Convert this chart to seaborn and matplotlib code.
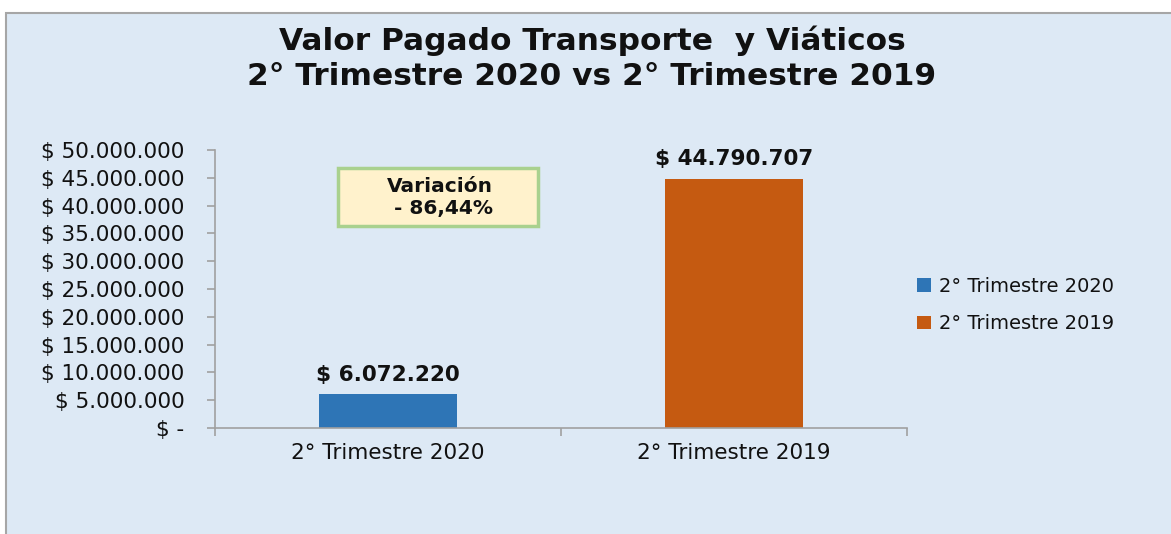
import matplotlib
matplotlib.use('Agg')
import matplotlib.pyplot as plt
import seaborn as sns
from matplotlib.patches import Rectangle
from matplotlib.ticker import FuncFormatter, MultipleLocator

categorias = ['2° Trimestre 2020', '2° Trimestre 2019']
valores = [6072220, 44790707]
colores = ['#2E75B6', '#C55A11']
titulo = 'Valor Pagado Transporte  y Viáticos\n2° Trimestre 2020 vs 2° Trimestre 2019'
variacion = 'Variación\n - 86,44%'


def pesos(v, pos=None):
    if v == 0:
        return '$ -'
    return '$ ' + f'{int(round(v)):,}'.replace(',', '.')


sns.set_style('white')
plt.rcParams['font.family'] = ['DejaVu Sans']

fig = plt.figure(figsize=(11.71, 5.34), dpi=100)
fig.patch.set_facecolor('white')
# light blue panel with grey border on the left and top
fig.patches.append(Rectangle((6 / 1171, -0.2), 1.5, 0.2 + (534 - 13) / 534,
                             transform=fig.transFigure, facecolor='#DDE9F5',
                             edgecolor='#A6A6A6', linewidth=1.5, zorder=-10))

ax = fig.add_axes([215 / 1171, 1 - 428 / 534, 692 / 1171, 278 / 534])
ax.set_facecolor('none')

sns.barplot(x=categorias, y=valores, hue=categorias, palette=colores,
            width=0.4, ax=ax, legend=True, saturation=1, linewidth=0)

ax.set_ylim(0, 50000000)
ax.set_xlim(-0.5, 1.5)
ax.yaxis.set_major_locator(MultipleLocator(5000000))
ax.yaxis.set_major_formatter(FuncFormatter(pesos))

for s in ['top', 'right']:
    ax.spines[s].set_visible(False)
for s in ['left', 'bottom']:
    ax.spines[s].set_color('#A0A0A0')
    ax.spines[s].set_linewidth(1.2)

ax.tick_params(axis='y', length=6, color='#A0A0A0', width=1.2, labelsize=15.5, pad=16,
               left=True, labelcolor='#111111')
ax.tick_params(axis='x', which='major', length=0, labelsize=15.5, pad=11, labelcolor='#111111')
ax.set_xticks([-0.5, 0.5, 1.5], minor=True)
ax.tick_params(axis='x', which='minor', length=6, color='#A0A0A0', width=1.2, bottom=True)

for c in ax.containers:
    ax.bar_label(c, labels=[pesos(b.get_height()) for b in c], padding=7,
                 fontsize=15.5, fontweight='bold', color='#111111')

handles, labels = ax.get_legend_handles_labels()
leg = ax.legend(handles, labels, loc='center left', frameon=False, fontsize=14,
                handlelength=0.72, handleheight=0.72, labelspacing=0.95,
                handletextpad=0.45, labelcolor='#111111')
leg.set_bbox_to_anchor((899 / 1171, 1 - 305 / 534), transform=fig.transFigure)

# variation box
ax.add_patch(Rectangle((0.178, 0.727), 0.289, 0.208, transform=ax.transAxes,
                       facecolor='#FFF2CC', edgecolor='#A9D18E', linewidth=2.5, zorder=3))
ax.text(0.325, 0.83, variacion, transform=ax.transAxes, ha='center', va='center',
        fontsize=14.5, fontweight='bold', color='#111111', linespacing=1.2, zorder=4)

fig.text(592 / 1171, 1 - 58 / 534, titulo, ha='center', va='center', fontsize=22.5,
         fontweight='bold', color='#111111', linespacing=1.25)

fig.savefig('out.png', dpi=100)
